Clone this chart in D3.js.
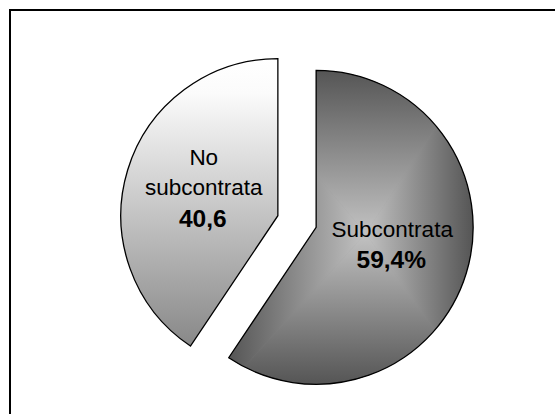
<!DOCTYPE html>
<html><head><meta charset="utf-8">
<script src="https://cdn.jsdelivr.net/npm/d3@7"></script>
<style>html,body{margin:0;padding:0;background:#fff;} svg{display:block;}</style>
</head><body>
<svg id="chart" width="555" height="414"></svg>
<script>
const categories = ["Subcontrata", "No subcontrata"];
const values = [59.4, 40.6];
const labelLines = [["Subcontrata"], ["No", "subcontrata"]];
const valueLabels = ["59,4%", "40,6"];

const svg = d3.select("#chart");
const defs = svg.append("defs");
const cx = 297, cy = 221.5, R = 157, explode = 20;

svg.append("rect").attr("x", 10).attr("y", 10).attr("width", 560).attr("height", 420)
  .attr("fill", "#fff").attr("stroke", "#000").attr("stroke-width", 2);

const pieData = d3.pie().sort(null).value(d => d)(values);
const arc = d3.arc().innerRadius(0).outerRadius(R);

pieData.forEach((d, i) => {
  const mid = (d.startAngle + d.endAngle) / 2;
  const ox = explode * Math.sin(mid), oy = -explode * Math.cos(mid);
  const g = svg.append("g").attr("transform", `translate(${cx + ox},${cy + oy})`);
  const pathD = arc(d);
  const tmp = g.append("path").attr("d", pathD).attr("fill", "none");
  const bb = tmp.node().getBBox();
  tmp.remove();
  if (i === 1) {
    const gid = "gradL";
    const lg = defs.append("linearGradient").attr("id", gid).attr("gradientUnits", "userSpaceOnUse")
      .attr("x1", 0).attr("y1", bb.y).attr("x2", 0).attr("y2", bb.y + bb.height);
    lg.append("stop").attr("offset", 0).attr("stop-color", "#ffffff");
    lg.append("stop").attr("offset", 0.12).attr("stop-color", "#fbfbfb");
    lg.append("stop").attr("offset", 1).attr("stop-color", "#888888");
    g.append("path").attr("d", pathD)
      .attr("fill", `url(#${gid})`).attr("stroke", "#000").attr("stroke-width", 1.3);
  } else {
    const clipId = "clipR";
    defs.append("clipPath").attr("id", clipId).append("path").attr("d", pathD);
    const cg = g.append("g").attr("clip-path", `url(#${clipId})`);
    const light = "#c2c2c2", dark = "#555555";
    const C = [bb.x + bb.width * 0.56, bb.y + bb.height * 0.52];
    const TL = [bb.x - 2, bb.y - 2], TR = [bb.x + bb.width + 2, bb.y - 2];
    const BR = [bb.x + bb.width + 2, bb.y + bb.height + 2], BL = [bb.x - 2, bb.y + bb.height + 2];
    cg.append("rect").attr("x", bb.x - 2).attr("y", bb.y - 2).attr("width", bb.width + 4)
      .attr("height", bb.height + 4).attr("fill", "#8a8a8a");
    const tris = [
      {pts: [C, TL, TR], g: [C[0], C[1], C[0], bb.y]},
      {pts: [C, TR, BR], g: [C[0], C[1], bb.x + bb.width, C[1]]},
      {pts: [C, BR, BL], g: [C[0], C[1], C[0], bb.y + bb.height]},
      {pts: [C, BL, TL], g: [C[0], C[1], bb.x, C[1]]}
    ];
    tris.forEach((t, k) => {
      const id = "gr" + k;
      const lg = defs.append("linearGradient").attr("id", id).attr("gradientUnits", "userSpaceOnUse")
        .attr("x1", t.g[0]).attr("y1", t.g[1]).attr("x2", t.g[2]).attr("y2", t.g[3]);
      lg.append("stop").attr("offset", 0).attr("stop-color", light);
      lg.append("stop").attr("offset", 1).attr("stop-color", dark);
      cg.append("path").attr("d", d3.line()(t.pts) + "Z").attr("fill", `url(#${id})`)
        .attr("stroke", `url(#${id})`).attr("stroke-width", 0.6);
    });
    g.append("path").attr("d", pathD).attr("fill", "none").attr("stroke", "#000").attr("stroke-width", 1.3);
  }
});

// labels
pieData.forEach((d, i) => {
  const mid = (d.startAngle + d.endAngle) / 2;
  const ox = explode * Math.sin(mid), oy = -explode * Math.cos(mid);
  const c = arc.centroid(d);
  const x = cx + ox + c[0], y = cy + oy + c[1];
  const lines = labelLines[i];
  const n = lines.length + 1;
  const t = svg.append("text").attr("text-anchor", "middle")
    .attr("font-family", "'Liberation Sans', Arial, sans-serif").attr("fill", "#000");
  let by = y - (n - 1) * 14 + 0.5;
  lines.forEach((ln, k) => {
    t.append("tspan").attr("x", x + 1).attr("y", by).attr("font-size", "22.5px").text(ln);
    by += 30;
  });
  by += 1.5;
  t.append("tspan").attr("x", x).attr("y", by).attr("font-size", "24.5px").attr("font-weight", "bold").text(valueLabels[i]);
});
</script>
</body></html>
